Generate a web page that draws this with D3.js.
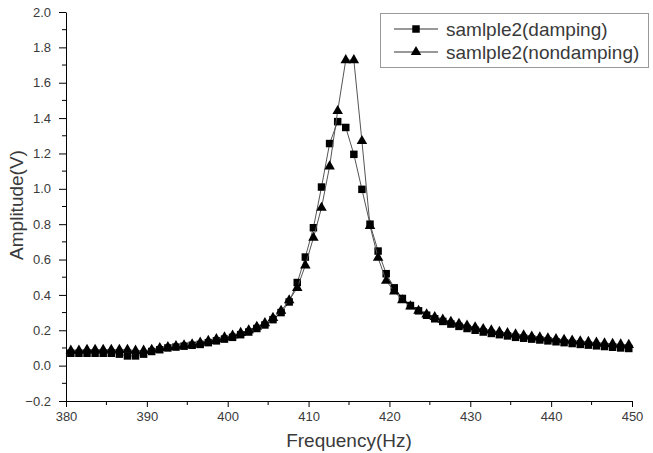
<!DOCTYPE html>
<html><head><meta charset="utf-8">
<script src="https://cdn.jsdelivr.net/npm/d3@7"></script>
<style>body{margin:0;background:#fff;}svg{display:block;font-family:"Liberation Sans",Arial,sans-serif;}</style>
</head><body><svg id="c" width="653" height="453"></svg>
<script>
const seriesNames = ["samlple2(damping)", "samlple2(nondamping)"];
const xTicks = [380, 390, 400, 410, 420, 430, 440, 450];
const yTicks = [-0.2, 0.0, 0.2, 0.4, 0.6, 0.8, 1.0, 1.2, 1.4, 1.6, 1.8, 2.0];
const freq = [380.6,381.6,382.6,383.6,384.6,385.6,386.6,387.6,388.6,389.6,
  390.6,391.6,392.6,393.6,394.6,395.6,396.6,397.6,398.6,399.6,
  400.6,401.6,402.6,403.6,404.6,405.6,406.6,407.6,408.6,409.6,
  410.6,411.6,412.6,413.6,414.6,415.6,416.6,417.6,418.6,419.6,
  420.6,421.6,422.6,423.6,424.6,425.6,426.6,427.6,428.6,429.6,
  430.6,431.6,432.6,433.6,434.6,435.6,436.6,437.6,438.6,439.6,
  440.6,441.6,442.6,443.6,444.6,445.6,446.6,447.6,448.6,449.6];
const damping = [0.07,0.07,0.07,0.07,0.07,0.07,0.065,0.055,0.055,0.065,
  0.08,0.09,0.10,0.105,0.11,0.115,0.12,0.13,0.14,0.15,
  0.16,0.175,0.19,0.21,0.23,0.26,0.30,0.36,0.47,0.614,
  0.78,1.01,1.256,1.38,1.347,1.195,0.997,0.80,0.648,0.52,
  0.44,0.38,0.34,0.31,0.285,0.265,0.25,0.235,0.222,0.21,
  0.20,0.19,0.182,0.175,0.168,0.16,0.155,0.15,0.145,0.14,
  0.135,0.13,0.125,0.12,0.116,0.112,0.108,0.104,0.10,0.097];
const nondamping = [0.085,0.085,0.09,0.09,0.09,0.09,0.09,0.09,0.085,0.085,
  0.09,0.10,0.105,0.11,0.115,0.12,0.13,0.14,0.15,0.16,
  0.17,0.185,0.20,0.22,0.24,0.27,0.31,0.37,0.44,0.567,
  0.723,0.893,1.127,1.44,1.728,1.728,1.27,0.79,0.61,0.48,
  0.42,0.37,0.335,0.31,0.29,0.275,0.26,0.248,0.237,0.227,
  0.217,0.207,0.199,0.191,0.184,0.177,0.171,0.165,0.16,0.155,
  0.15,0.146,0.142,0.138,0.134,0.13,0.126,0.123,0.12,0.117];

const svg = d3.select("#c");
const x = d3.scaleLinear().domain([380, 450]).range([66, 632]);
const y = d3.scaleLinear().domain([-0.2, 2.0]).range([401, 12]);

const textCol = "#3a3a3a";
const ff = "Liberation Sans, Arial, sans-serif";
// x axis
const xMinor = d3.range(385, 450, 10);
const gx = svg.append("g").attr("transform", `translate(0,${y(-0.2)})`);
gx.call(d3.axisBottom(x).tickValues(xTicks).tickFormat(d3.format("d")).tickSize(6).tickSizeOuter(0));
gx.selectAll(".minor").data(xMinor).enter().append("line").attr("class","minor")
  .attr("x1", d => x(d)).attr("x2", d => x(d)).attr("y1", 0).attr("y2", 4).attr("stroke", "#000");
gx.selectAll("text").attr("font-size", 13).attr("fill", textCol).attr("y", 8).attr("dy", "0.9em").attr("font-family", ff);
// y axis
const yMinor = d3.range(-0.1, 2.0, 0.2);
const gy = svg.append("g").attr("transform", `translate(${x(380)},0)`);
gy.call(d3.axisLeft(y).tickValues(yTicks).tickFormat(d3.format(".1f")).tickSize(7).tickSizeOuter(0));
gy.selectAll(".minor").data(yMinor).enter().append("line").attr("class","minor")
  .attr("y1", d => y(d)).attr("y2", d => y(d)).attr("x1", 0).attr("x2", -4).attr("stroke", "#000");
gy.selectAll("text").attr("font-size", 13).attr("fill", textCol).attr("x", -15).attr("font-family", ff);
svg.selectAll(".domain").attr("stroke", "#000");

// axis titles
svg.append("text").attr("x", 349).attr("y", 447).attr("text-anchor", "middle")
  .attr("font-size", 19).attr("fill", textCol).text("Frequency(Hz)");
svg.append("text").attr("transform", "translate(23,205) rotate(-90)").attr("text-anchor", "middle")
  .attr("font-size", 19).attr("fill", textCol).text("Amplitude(V)");

const sets = [damping, nondamping];
const symbols = [d3.symbol().type(d3.symbolSquare).size(56), d3.symbol().type(d3.symbolTriangle).size(48)];
const line = d3.line().x((d, i) => x(freq[i])).y(d => y(d));
sets.forEach((vals, s) => {
  svg.append("path").datum(vals).attr("d", line).attr("fill", "none").attr("stroke", "#555").attr("stroke-width", 1);
  svg.append("g").selectAll("path").data(vals).enter().append("path")
    .attr("d", symbols[s]).attr("fill", "#000")
    .attr("transform", (d, i) => `translate(${x(freq[i])},${y(d)})`);
});

// legend
const lg = svg.append("g");
lg.append("rect").attr("x", 380.5).attr("y", 13.5).attr("width", 268).attr("height", 54)
  .attr("fill", "#fff").attr("stroke", "#999").attr("stroke-width", 1);
seriesNames.forEach((n, i) => {
  const yy = 29 + i * 23;
  lg.append("line").attr("x1", 394).attr("x2", 438).attr("y1", yy).attr("y2", yy).attr("stroke", "#333");
  lg.append("path").attr("d", symbols[i]).attr("fill", "#000").attr("transform", `translate(416,${yy})`);
  lg.append("text").attr("x", 446).attr("y", yy + 6.5).attr("font-size", 19).attr("fill", textCol).text(n);
});
</script></body></html>
